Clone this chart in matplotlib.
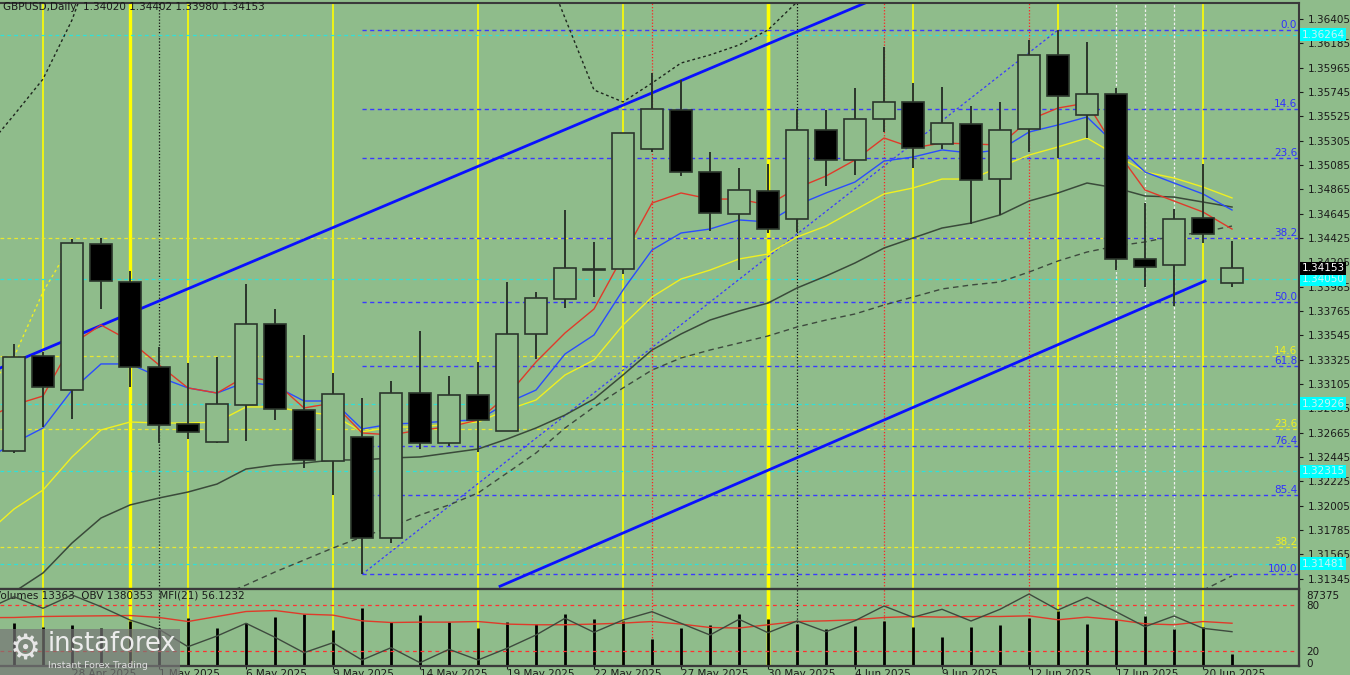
import numpy as np
import pandas as pd
import matplotlib
matplotlib.use("Agg")
import matplotlib.pyplot as plt
from matplotlib.patches import Rectangle

# trading days; 23 Apr only shows up as the first axis label
dates = pd.bdate_range("2025-04-23", "2025-06-23")
pos = np.arange(len(dates)) - 1          # 24 Apr = slot 0

opens = [1.32499, 1.33361, 1.33048, 1.34371, 1.34024, 1.33258, 1.32740, 1.32580, 1.32918, 1.33647,
         1.32870, 1.32411, 1.32623, 1.31710, 1.33023, 1.32568, 1.33003, 1.32682, 1.33557, 1.33876,
         1.34145, 1.34147, 1.35232, 1.35585, 1.35024, 1.34642, 1.34853, 1.34594, 1.35401, 1.35127,
         1.35501, 1.35657, 1.35275, 1.35456, 1.34955, 1.35408, 1.36082, 1.35534, 1.35730, 1.34235,
         1.34181, 1.34606, 1.34020]
highs = [1.33466, 1.33397, 1.34413, 1.34422, 1.34129, 1.33442, 1.33292, 1.33349, 1.34009, 1.33780,
         1.33548, 1.33207, 1.32975, 1.33134, 1.33584, 1.33177, 1.33306, 1.34024, 1.33934, 1.34678,
         1.34391, 1.35374, 1.35914, 1.35853, 1.35202, 1.35058, 1.35094, 1.35589, 1.35582, 1.35781,
         1.36149, 1.35829, 1.35793, 1.35618, 1.35657, 1.36215, 1.36306, 1.36200, 1.35778, 1.34744,
         1.34684, 1.35094, 1.34402]
lows = [1.32484, 1.32719, 1.32785, 1.33786, 1.33075, 1.32574, 1.32605, 1.32575, 1.32587, 1.32779,
        1.32348, 1.32101, 1.31384, 1.31664, 1.32514, 1.32544, 1.32493, 1.32680, 1.33328, 1.33789,
        1.33891, 1.34097, 1.35205, 1.34985, 1.34485, 1.34135, 1.34467, 1.34479, 1.34898, 1.34992,
        1.35386, 1.35055, 1.35227, 1.34551, 1.34630, 1.35205, 1.35145, 1.35326, 1.34135, 1.33985,
        1.33810, 1.34377, 1.33980]
closes = [1.33352, 1.33080, 1.34377, 1.34033, 1.33256, 1.32737, 1.32671, 1.32921, 1.33647, 1.32876,
          1.32418, 1.33017, 1.31715, 1.33026, 1.32574, 1.33008, 1.32779, 1.33560, 1.33880, 1.34151,
          1.34140, 1.35371, 1.35589, 1.35019, 1.34648, 1.34856, 1.34506, 1.35401, 1.35130, 1.35498,
          1.35657, 1.35239, 1.35462, 1.34952, 1.35404, 1.36082, 1.35709, 1.35730, 1.34232, 1.34165,
          1.34599, 1.34461, 1.34153]
volumes = [52830, 47090, 49960, 45840, 54580, 46590, 58700, 45840, 52080, 59950,
           64070, 43720, 70820, 53330, 62830, 54080, 46590, 53710, 51210, 63320,
           57450, 54580, 32850, 46590, 49960, 64070, 57080, 51580, 44960, 48710,
           55330, 47840, 35350, 47840, 49960, 58700, 67070, 51210, 56200, 61580,
           45340, 47840, 13363]

# moving averages, one value per slot from 23 Apr
ma_red = [1.32788, 1.32915, 1.32996, 1.33466, 1.33638, 1.33494, 1.33277, 1.33069, 1.33023, 1.33177,
          1.33123, 1.32888, 1.32933, 1.32662, 1.32644, 1.32689, 1.32716, 1.32779, 1.32996, 1.33304,
          1.33566, 1.33783, 1.34262, 1.34741, 1.34832, 1.34777, 1.34777, 1.34723, 1.34877, 1.34985,
          1.35130, 1.35329, 1.35239, 1.35284, 1.35275, 1.35266, 1.35492, 1.35600, 1.35646, 1.35221,
          1.34859, 1.34759, 1.34660, 1.34506]
ma_blue = [1.32418, 1.32571, 1.32707, 1.33050, 1.33286, 1.33286, 1.33168, 1.33069, 1.33023, 1.33123,
           1.33087, 1.32951, 1.32951, 1.32698, 1.32743, 1.32752, 1.32770, 1.32779, 1.32933, 1.33050,
           1.33376, 1.33548, 1.33955, 1.34316, 1.34470, 1.34506, 1.34588, 1.34570, 1.34723, 1.34832,
           1.34931, 1.35121, 1.35157, 1.35221, 1.35193, 1.35221, 1.35383, 1.35447, 1.35519, 1.35266,
           1.35022, 1.34922, 1.34823, 1.34678]
ma_yellow = [1.31739, 1.31974, 1.32146, 1.32445, 1.32689, 1.32761, 1.32752, 1.32752, 1.32761, 1.32897,
             1.32897, 1.32852, 1.32824, 1.32671, 1.32716, 1.32716, 1.32743, 1.32761, 1.32870, 1.32960,
             1.33186, 1.33322, 1.33638, 1.33891, 1.34054, 1.34135, 1.34235, 1.34280, 1.34434, 1.34533,
             1.34678, 1.34823, 1.34877, 1.34958, 1.34958, 1.35067, 1.35175, 1.35248, 1.35329, 1.35175,
             1.35022, 1.34967, 1.34886, 1.34787]
ma_dark = [1.31061, 1.31224, 1.31396, 1.31667, 1.31893, 1.32011, 1.32074, 1.32128, 1.32200, 1.32336,
           1.32372, 1.32390, 1.32418, 1.32418, 1.32436, 1.32445, 1.32481, 1.32517, 1.32607, 1.32707,
           1.32824, 1.32969, 1.33186, 1.33412, 1.33557, 1.33683, 1.33765, 1.33837, 1.33973, 1.34081,
           1.34199, 1.34334, 1.34425, 1.34515, 1.34560, 1.34633, 1.34759, 1.34832, 1.34922, 1.34877,
           1.34805, 1.34795, 1.34750, 1.34705]
nan = np.nan
ma_slow = [nan, nan, nan, nan, nan, nan, nan, nan, 1.31179, 1.31287,
           1.31405, 1.31513, 1.31622, 1.31721, 1.31812, 1.31920, 1.32011, 1.32119, 1.32300, 1.32481,
           1.32707, 1.32897, 1.33069, 1.33231, 1.33340, 1.33412, 1.33475, 1.33539, 1.33620, 1.33683,
           1.33738, 1.33819, 1.33891, 1.33964, 1.34000, 1.34027, 1.34117, 1.34217, 1.34298, 1.34352,
           1.34389, 1.34443, 1.34479, 1.34533]
band_up = [1.35221, 1.35537, 1.35862, 1.36396, 1.37119, nan, nan, nan, nan, nan,
           nan, nan, nan, nan, nan, nan, nan, nan, nan, 1.37074,
           1.36414, 1.35763, 1.35655, 1.35826, 1.36007, 1.36080, 1.36170, 1.36306, 1.36559, 1.36848,
           nan, nan, nan, nan, nan, nan, nan, nan, nan, nan,
           nan, nan, nan, nan]
band_low = [nan] * 42 + [1.31240, 1.31370]
band_yel = [1.33050, 1.33351, 1.33937, 1.34380] + [nan] * 40

mfi = [63.5, 63.7, 65.0, 65.5, 65.9, 66.3, 63.7, 58.4, 65.0, 71.6,
       72.9, 68.1, 66.8, 59.3, 57.1, 57.6, 57.6, 58.4, 55.0, 54.1,
       54.1, 55.0, 56.3, 58.4, 55.0, 50.5, 49.8, 54.1, 58.4, 59.3,
       60.7, 63.7, 65.0, 64.2, 65.0, 65.0, 65.9, 60.7, 64.2, 60.7,
       55.4, 54.1, 58.4, 56.1232]
obv = [1465000, 1516850, 1471610, 1523480, 1477850, 1425980, 1389710, 1321850, 1363580, 1413110,
       1358510, 1298450, 1337450, 1269980, 1317950, 1259450, 1311710, 1269980, 1315610, 1367480,
       1432610, 1378010, 1425980, 1458350, 1413110, 1367480, 1428710, 1376450, 1422080, 1380350,
       1423250, 1480580, 1436510, 1467710, 1422080, 1467710, 1527380, 1464980, 1514510, 1458350,
       1399850, 1441580, 1393610, 1380353]

# fibo grid from the 12 May low to the 13 Jun high
fib_levels = [0.0, 14.6, 23.6, 38.2, 50.0, 61.8, 76.4, 85.4, 100.0]
fib_lo, fib_hi = lows[12], highs[36]
yfib_levels = [0.0, 14.6, 23.6, 38.2]
yfib_hi, yfib_lo = 1.34422, 1.27110
cyan_levels = [1.36264, 1.34050, 1.32926, 1.32315, 1.31481]

# channel
ch_up_x, ch_up_y = [-0.48, 29.35], [1.33249, 1.36550]
ch_lo_x, ch_lo_y = [16.76, 41.07], [1.31276, 1.34036]

fridays = [1, 6, 11, 16, 21, 26, 31, 36, 41]
month_end = [4, 26]
month_start = [5, 27]
red_days = [22, 30, 35]
white_days = [38, 39, 40]

bg = "#8fbc8b"
dark = "#2b352b"
fs = 7.5

fig = plt.figure(figsize=(13.5, 6.75), dpi=100, facecolor=bg)
ax = fig.add_axes([0, 86 / 675, 1299 / 1350, 586 / 675], facecolor=bg)
axv = fig.add_axes([0, 9 / 675, 1299 / 1350, 77 / 675], facecolor=bg, sharex=ax)

xlim = (-0.483, 44.31)
ax.set_ylim(1.312511, 1.365497)

# verticals on both panels
for a in (ax, axv):
    for d in fridays:
        a.axvline(d, color="#ffff00", lw=2.4 if d in month_end else 1.2, zorder=1)
    for d in month_end:
        a.axvline(d, color="#ffff00", lw=2.4, zorder=1)
    for d in month_start:
        a.axvline(d, color="#111111", lw=0.9, ls=(0, (1, 1.5)), zorder=1)
    for d in red_days:
        a.axvline(d, color="#ff2020", lw=0.9, ls=(0, (1, 1.5)), zorder=1)
    for d in white_days:
        a.axvline(d, color="#f0f0f0", lw=0.9, ls=(0, (2, 1.5)), zorder=1)

# horizontal levels
for lv in cyan_levels:
    ax.axhline(lv, color="#30e0d8", lw=0.9, ls=(0, (3, 2.5)), zorder=1)
for lv in yfib_levels:
    p = yfib_hi - lv / 100 * (yfib_hi - yfib_lo)
    ax.axhline(p, color="#e8e830", lw=0.9, ls=(0, (3, 2.5)), zorder=1)
    if lv > 0:
        ax.text(0.9985, p, f"{lv:.1f}", transform=ax.get_yaxis_transform(), ha="right",
                va="bottom", fontsize=fs, color="#f0f020")
for lv in fib_levels:
    p = fib_hi - lv / 100 * (fib_hi - fib_lo)
    ax.hlines(p, 12, xlim[1], color="#3a3aff", lw=1.0, ls=(0, (3, 2.5)), zorder=1)
    ax.text(0.9985, p, f"{lv:.1f}", transform=ax.get_yaxis_transform(), ha="right",
            va="bottom", fontsize=fs, color="#3030ff")
ax.plot([12, 36], [fib_lo, fib_hi], color="#3a3aff", lw=0.9, ls=(0, (2, 2)), zorder=1)

# channel lines
ax.plot(ch_up_x, ch_up_y, color="#0a10ff", lw=2, zorder=2)
ax.plot(ch_lo_x, ch_lo_y, color="#0a10ff", lw=2, zorder=2)

# moving averages and bands
ax.plot(pos, ma_slow, color="#3e4a3e", lw=1, ls=(0, (4, 3)), zorder=2)
ax.plot(pos, band_up, color="#1e261e", lw=1, ls=(0, (2, 2)), zorder=2)
ax.plot(pos, band_low, color="#3e4a3e", lw=1, ls=(0, (4, 3)), zorder=2)
ax.plot(pos, band_yel, color="#f0f020", lw=1, ls=(0, (2, 2)), zorder=2)
ax.plot(pos, ma_dark, color="#3a4a3a", lw=1.1, zorder=2)
ax.plot(pos, ma_yellow, color="#f0f020", lw=1, zorder=2)
ax.plot(pos, ma_blue, color="#2a4cff", lw=1, zorder=2)
ax.plot(pos, ma_red, color="#e03a2a", lw=1, zorder=2)

# candles
cx = pos[1:]
o, c = np.array(opens), np.array(closes)
ax.vlines(cx, lows, highs, color=dark, lw=1.4, zorder=4)
body_h = np.maximum(np.abs(c - o), 0.00001)
fill = ["black" if cc < oo else bg for oo, cc in zip(o, c)]
ax.bar(cx, body_h, bottom=np.minimum(o, c), width=0.76, color=fill,
       edgecolor=dark, lw=1.2, zorder=5)

# price axis
ticks = [1.31345 + 0.0022 * k for k in range(24)]
ax.yaxis.tick_right()
ax.set_yticks(ticks)
ax.set_yticklabels([f"{t:.5f}" for t in ticks])
ax.set_ylim(1.312511, 1.365497)
ax.tick_params(axis="y", length=3, width=0.8, pad=3, labelsize=fs, colors="#1a1a1a")
ax.tick_params(axis="x", length=0, labelbottom=False)
ax.spines["left"].set_visible(False)
for s in ("top", "right", "bottom"):
    ax.spines[s].set_color("#3a3a3a")
    ax.spines[s].set_linewidth(1.5)

for lv in cyan_levels:
    ax.annotate(f"{lv:.5f}", xy=(1, lv), xycoords=("axes fraction", "data"), xytext=(2, 0),
                textcoords="offset points", ha="left", va="center", fontsize=fs, color="#c8f4f4",
                bbox=dict(boxstyle="square,pad=0.15", fc="#00ffff", ec="none"),
                annotation_clip=False, zorder=6)
ax.annotate(f"{closes[-1]:.5f}", xy=(1, closes[-1]), xycoords=("axes fraction", "data"),
            xytext=(2, 0), textcoords="offset points", ha="left", va="center", fontsize=fs,
            color="white", bbox=dict(boxstyle="square,pad=0.15", fc="black", ec="none"),
            annotation_clip=False, zorder=6)

fig.text(3 / 1350, 1 - 7 / 675,
         f"GBPUSD,Daily  {opens[-1]:.5f} {highs[-1]:.5f} {lows[-1]:.5f} {closes[-1]:.5f}",
         fontsize=fs, color="#1a1a1a", va="center", ha="left")

# lower panel: volumes, MFI, OBV
axv.vlines(cx, 0, volumes, color="black", lw=2, zorder=3)
axv.set_ylim(-1249, 94924)

axm = axv.twinx()
axm.set_ylim(-0.3, 101.3)
axm.axhline(80, color="#ff3030", lw=0.9, ls=(0, (3, 3)))
axm.axhline(20, color="#ff3030", lw=0.9, ls=(0, (3, 3)))
axm.plot(pos, mfi, color="#e03a2a", lw=1)
axm.set_yticks([20, 80])
axm.tick_params(axis="y", length=0, pad=5, labelsize=fs, colors="#1a1a1a")

axo = axv.twinx()
axo.set_ylim(1246583, 1546883)
axo.plot(pos, obv, color="#3e4a3e", lw=1)
axo.set_yticks([])

# twinx moves the volume ticks to the left, put them back on the right
axv.yaxis.tick_right()
axv.set_yticks([2500, 87375])
axv.set_yticklabels(["0", "87375"])
axv.set_ylim(-1249, 94924)
axv.tick_params(axis="y", length=0, pad=5, labelsize=fs, colors="#1a1a1a")

for a in (axv, axm, axo):
    a.spines["left"].set_visible(False)
    for s in ("top", "right", "bottom"):
        a.spines[s].set_color("#3a3a3a")
        a.spines[s].set_linewidth(1.5)

xt = pos[::3]
axv.set_xticks(xt)
axv.set_xticklabels([f"{d.day} {d.strftime('%b %Y')}" for d in dates[::3]], ha="left")
axv.tick_params(axis="x", length=2, width=0.8, pad=0, labelsize=fs, colors="#1a1a1a")
ax.set_xlim(*xlim)   # after the ticks, set_xticks widens the view

axv.text(-6 / 1299, (666 - 595) / 77,
         f"Volumes {volumes[-1]}  OBV {obv[-1]}  MFI(21) {mfi[-1]:.4f}",
         transform=axv.transAxes, fontsize=fs, color="#1a1a1a", va="center", ha="left", zorder=7)

# watermark
fig.add_artist(Rectangle((0, 0), 180 / 1350, 46 / 675, transform=fig.transFigure,
                         fc="#767676", ec="none", alpha=0.7, zorder=8))
fig.text(25 / 1350, 1 - 650 / 675, "\u2699", fontsize=25, color="#e6e6e6",
         ha="center", va="center", zorder=9)
fig.text(48 / 1350, 1 - 644 / 675, "instaforex", fontsize=18.5, color="#ececec",
         ha="left", va="center", zorder=9)
fig.text(48 / 1350, 1 - 666 / 675, "Instant Forex Trading", fontsize=6.8, color="#e0e0e0",
         ha="left", va="center", zorder=9)

fig.savefig("out.png", dpi=100, facecolor=bg)
